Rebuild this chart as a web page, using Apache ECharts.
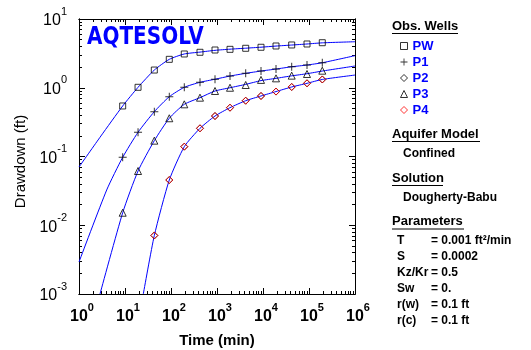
<!DOCTYPE html>
<html>
<head>
<meta charset="utf-8">
<script src="https://cdn.jsdelivr.net/npm/echarts@6/dist/echarts.min.js"></script>
<style>
  html, body { margin: 0; padding: 0; background: #fff; }
  #chart { width: 531px; height: 350px; }
</style>
</head>
<body>
<div id="chart"></div>
<script>
// observation times (min), same for every well
const obsTimes = [8.9, 19.2, 43.4, 91.8, 194.5, 427, 905, 1918, 4206, 9050, 19180, 42060, 90500, 194500]

// observed drawdown (ft)
const pwObs = [0.543, 1.015, 1.81, 2.59, 3.10, 3.28, 3.54, 3.62, 3.75, 3.88, 4.05, 4.19, 4.33, 4.52]
const p1Obs = [0.0973, 0.225, 0.449, 0.741, 1.015, 1.20, 1.33, 1.48, 1.62, 1.75, 1.87, 2.02, 2.14, 2.31]
const p2Obs = [null, null, 0.0071, 0.0455, 0.139, 0.257, 0.388, 0.513, 0.648, 0.759, 0.88, 1.026, 1.16, 1.32]
const p3Obs = [0.0152, 0.0615, 0.170, 0.360, 0.574, 0.717, 0.897, 1.00, 1.096, 1.30, 1.37, 1.50, 1.585, 1.77]
const p4Obs = [null, null, 0.0071, 0.0455, 0.139, 0.257, 0.388, 0.513, 0.648, 0.759, 0.88, 1.026, 1.16, 1.32]

// fitted (Dougherty-Babu) curves
const pwFitT = [1, 3.0, 8.9, 19.2, 43.4, 91.8, 194.5, 427, 905, 1918, 4206, 9050, 19180, 42060, 90500, 194500, 1e6]
const pwFit = [0.0703, 0.199, 0.543, 1.015, 1.81, 2.59, 3.10, 3.30, 3.50, 3.64, 3.76, 3.89, 4.04, 4.18, 4.33, 4.50, 4.67]
const p1FitT = [1, 4.0, 8.9, 19.2, 43.4, 91.8, 194.5, 427, 905, 1918, 4206, 9050, 19180, 42060, 90500, 194500, 1e6]
const p1Fit = [0.00292, 0.0326, 0.0973, 0.225, 0.449, 0.741, 1.015, 1.20, 1.33, 1.48, 1.62, 1.75, 1.87, 2.02, 2.14, 2.31, 2.93]
const p3FitT = [2.86, 8.9, 19.2, 43.4, 91.8, 194.5, 427, 905, 1918, 4206, 9050, 19180, 42060, 90500, 194500, 1e6]
const p3Fit = [0.001, 0.0152, 0.0615, 0.170, 0.360, 0.574, 0.717, 0.897, 1.00, 1.12, 1.27, 1.37, 1.49, 1.60, 1.75, 2.07]
const p2FitT = [25, 43.4, 91.8, 194.5, 427, 905, 1918, 4206, 9050, 19180, 42060, 90500, 194500, 1e6]
const p2Fit = [0.001, 0.0071, 0.0455, 0.139, 0.257, 0.388, 0.513, 0.648, 0.759, 0.88, 1.026, 1.16, 1.32, 1.53]

// axis ticks
const majorX = [1, 10, 100, 1000, 10000, 100000, 1000000]
const majorY = [0.001, 0.01, 0.1, 1, 10]
const minorX = []
const minorY = []
majorX.slice(0, -1).forEach((d) => { for (let k = 2; k < 10; k++) minorX.push(d * k) })
majorY.slice(0, -1).forEach((d) => { for (let k = 2; k < 10; k++) minorY.push(d * k) })

// right hand panel
const paramNames = ['T', 'S', 'Kz/Kr', 'Sw', 'r(w)', 'r(c)']
const paramValues = ['= 0.001 ft\u00b2/min', '= 0.0002', '= 0.5', '= 0.', '= 0.1 ft', '= 0.1 ft']

const FONT = 'Liberation Sans, Arial, sans-serif'
const plusPath = 'path://M3.5,0h1v8h-1z M0,3.5h8v1h-8z'

function pairs(ts, vs) {
  const out = []
  ts.forEach((t, i) => { if (vs[i] != null) out.push([t, vs[i]]) })
  return out
}

function expLabel(v) {
  const e = Math.round(Math.log10(v))
  return '{b|10}{s|' + e + '}'
}

function xAxisDef(pos, ticks, len, labels) {
  return {
    type: 'log', logBase: 10, min: 1, max: 1e6, position: pos,
    axisLine: { show: true, lineStyle: { color: '#000', width: 1 } },
    axisTick: { show: true, inside: true, length: len, customValues: ticks, lineStyle: { color: '#000' } },
    axisLabel: labels ? {
      show: true, customValues: majorX, formatter: expLabel, margin: 8, padding: [0, 0, 0, 6],
      rich: {
        b: { fontFamily: FONT, fontSize: 16, fontWeight: 'bold', color: '#000', lineHeight: 30 },
        s: { fontFamily: FONT, fontSize: 11, fontWeight: 'bold', color: '#000', lineHeight: 12, verticalAlign: 'top' }
      }
    } : { show: false },
    splitLine: { show: false },
    name: labels ? 'Time (min)' : '', nameLocation: 'middle', nameGap: 39,
    nameTextStyle: { fontFamily: FONT, fontSize: 15, fontWeight: 'bold', color: '#000' }
  }
}

function yAxisDef(pos, ticks, len, labels) {
  return {
    type: 'log', logBase: 10, min: 0.001, max: 10, position: pos,
    axisLine: { show: true, lineStyle: { color: '#000', width: 1 } },
    axisTick: { show: true, inside: true, length: len, customValues: ticks, lineStyle: { color: '#000' } },
    axisLabel: labels ? {
      show: true, customValues: majorY, formatter: expLabel, margin: 12, padding: [4, 0, 0, 0],
      rich: {
        b: { fontFamily: FONT, fontSize: 16, color: '#000', lineHeight: 30 },
        s: { fontFamily: FONT, fontSize: 11, color: '#000', lineHeight: 12, verticalAlign: 'top' }
      }
    } : { show: false },
    splitLine: { show: false },
    name: labels ? 'Drawdown (ft)' : '', nameLocation: 'middle', nameGap: 50,
    nameTextStyle: { fontFamily: FONT, fontSize: 15, color: '#000', padding: [0, 10, 0, 0] }
  }
}

function fitLine(name, ts, vs) {
  return {
    name: name, type: 'line', data: pairs(ts, vs), showSymbol: false, symbol: 'none',
    smooth: 0.2, z: 2, silent: true,
    lineStyle: { color: '#0000ff', width: 1 }
  }
}

function obsSeries(name, vs, symbol, size, color) {
  return {
    name: name, type: 'scatter', data: pairs(obsTimes, vs), symbol: symbol, symbolSize: size, z: 3,
    itemStyle: symbol === plusPath
      ? { color: color }
      : { color: 'rgba(0,0,0,0)', borderColor: color, borderWidth: 1 }
  }
}

const header = (text, y, w) => [
  { type: 'text', x: 392, y: y, style: { text: text, font: 'bold 13px ' + FONT, fill: '#000', verticalAlign: 'middle' } },
  { type: 'line', shape: { x1: 392, y1: y + 7.5, x2: 392 + w, y2: y + 7.5 }, style: { stroke: '#000', lineWidth: 1 } }
]
const plain = (text, x, y) => ({ type: 'text', x: x, y: y, style: { text: text, font: 'bold 12px ' + FONT, fill: '#000', verticalAlign: 'middle' } })

const graphics = [
  { type: 'text', x: 87, y: 37, scaleX: 0.8, z: 10,
    style: { text: 'AQTESOLV', font: 'bold 25px DejaVu Sans', fill: '#0000ff', verticalAlign: 'middle' } }
]
  .concat(header('Obs. Wells', 26, 66))
  .concat(header('Aquifer Model', 134, 88))
  .concat([plain('Confined', 403, 154)])
  .concat(header('Solution', 178, 51))
  .concat([plain('Dougherty-Babu', 403, 198)])
  .concat(header('Parameters', 221.5, 72))
paramNames.forEach((n, i) => {
  graphics.push(plain(n, 397, 241 + i * 16))
  graphics.push(plain(paramValues[i], 431, 241 + i * 16))
})

const chart = echarts.init(document.getElementById('chart'), null, { renderer: 'canvas' })
chart.setOption({
  animation: false,
  backgroundColor: '#fff',
  grid: { left: 79, right: 176, top: 19, bottom: 56, containLabel: false, outerBoundsMode: 'none' },
  xAxis: [
    xAxisDef('bottom', majorX, 6, true),
    xAxisDef('top', majorX, 6, false),
    xAxisDef('bottom', minorX, 3, false),
    xAxisDef('top', minorX, 3, false)
  ],
  yAxis: [
    yAxisDef('left', majorY, 6, true),
    yAxisDef('right', majorY, 6, false),
    yAxisDef('left', minorY, 3, false),
    yAxisDef('right', minorY, 3, false)
  ],
  legend: {
    data: ['PW', 'P1', 'P2', 'P3', 'P4'], orient: 'vertical', left: 400, top: 38, padding: 0,
    itemWidth: 7, itemHeight: 7, itemGap: 0, selectedMode: false,
    itemStyle: { borderWidth: 1 },
    textStyle: { fontFamily: FONT, fontSize: 13, fontWeight: 'bold', color: '#0000ff', lineHeight: 16 }
  },
  series: [
    fitLine('fitPW', pwFitT, pwFit),
    fitLine('fitP1', p1FitT, p1Fit),
    fitLine('fitP3', p3FitT, p3Fit),
    fitLine('fitP2', p2FitT, p2Fit),
    obsSeries('PW', pwObs, 'rect', 6, '#000'),
    obsSeries('P1', p1Obs, plusPath, 8, '#000'),
    obsSeries('P2', p2Obs, 'diamond', 7, '#000'),
    obsSeries('P3', p3Obs, 'triangle', 7, '#000'),
    obsSeries('P4', p4Obs, 'diamond', 7, '#ff0000')
  ],
  graphic: graphics
})
</script>
</body>
</html>
